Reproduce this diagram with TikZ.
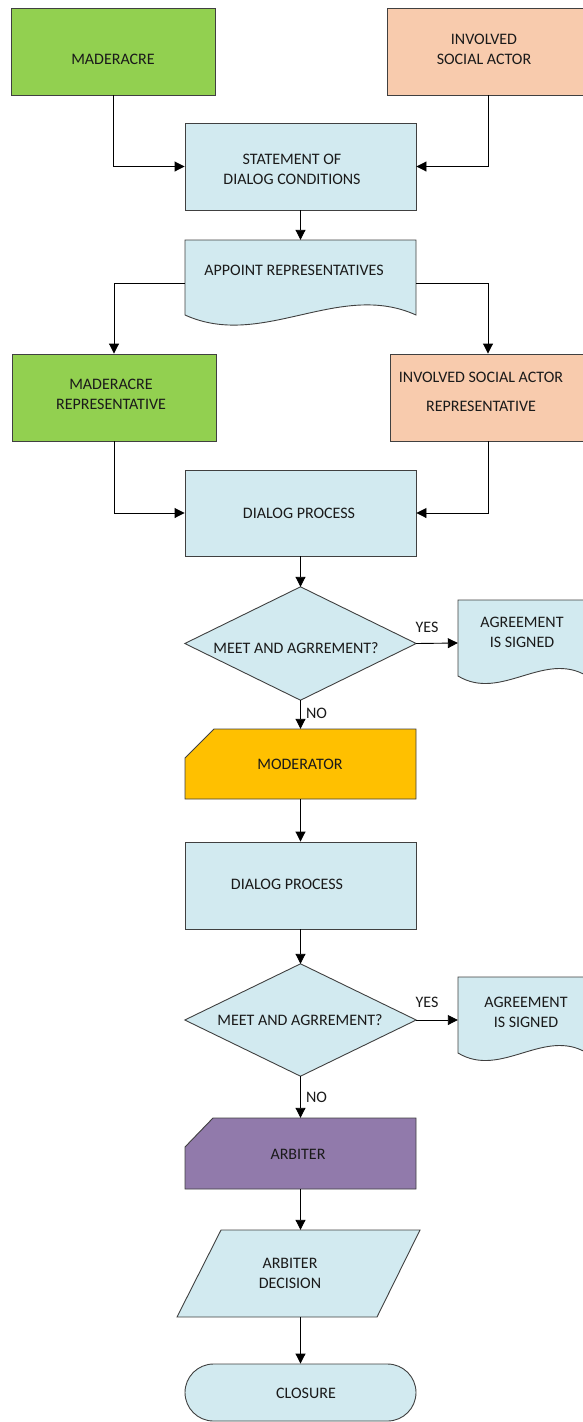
\documentclass[tikz,border=0pt]{standalone}
\usepackage{fontspec}
\setmainfont{Carlito}
\usetikzlibrary{arrows.meta}
\definecolor{boxgreen}{HTML}{92D050}
\definecolor{boxpeach}{HTML}{F8CBAD}
\definecolor{boxblue}{HTML}{D2EAF0}
\definecolor{boxorange}{HTML}{FFC000}
\definecolor{boxpurple}{HTML}{917AAB}
\definecolor{edge}{HTML}{404040}
\definecolor{ink}{HTML}{1A1A1A}

\begin{document}
\begin{tikzpicture}[x=1pt,y=-1pt,
  font=\fontsize{16}{20}\selectfont,
  box/.style={rectangle, draw=edge, line width=0.9pt, inner sep=0pt},
  frame/.style={rectangle, inner sep=0pt},
  outline/.style={draw=edge, line width=0.9pt},
  lbl/.style={text=ink, align=center, inner sep=1pt},
  flow/.style={draw=black, line width=0.9pt, -{Triangle[length=10pt,width=10pt]}}]

\clip (0,0) rectangle (583,1422);

% ---- plain boxes ----
\node[box, fill=boxgreen, minimum width=204pt, minimum height=87pt] (mad) at (113,51.5) {};
\node[box, fill=boxpeach, minimum width=202pt, minimum height=87pt] (soc) at (488,51.5) {};
\node[box, fill=boxblue, minimum width=231pt, minimum height=87pt] (stmt) at (300.5,166.5) {};
\node[box, fill=boxgreen, minimum width=204pt, minimum height=87pt] (mrep) at (114,397.5) {};
\node[box, fill=boxpeach, minimum width=196pt, minimum height=87pt] (srep) at (488,397.5) {};
\node[box, fill=boxblue, minimum width=231pt, minimum height=86pt] (dlg1) at (300.5,513) {};
\node[box, fill=boxblue, minimum width=231pt, minimum height=87pt] (dlg2) at (300.5,885.5) {};
\node[box, fill=boxblue, rounded corners=28.5pt, minimum width=231pt, minimum height=57pt] (clo) at (300.5,1392.5) {};

% ---- frames of the drawn shapes ----
\node[frame, minimum width=231pt, minimum height=86pt] (app) at (300.5,283) {};
\node[frame, minimum width=231pt, minimum height=113pt] (dia1) at (300.5,643.5) {};
\node[frame, minimum width=129pt, minimum height=86pt] (agr1) at (522.5,643) {};
\node[frame, minimum width=231pt, minimum height=70pt] (mod) at (300.5,764) {};
\node[frame, minimum width=231pt, minimum height=112pt] (dia2) at (300.5,1020) {};
\node[frame, minimum width=129pt, minimum height=86pt] (agr2) at (522.5,1020) {};
\node[frame, minimum width=231pt, minimum height=71pt] (arb) at (300.5,1153.5) {};
\node[frame, minimum width=243pt, minimum height=87pt] (dec) at (298.5,1273.5) {};

% document shapes with a wavy lower edge
\path[outline, fill=boxblue] (185,240) -- (416,240) -- (416,315)
  .. controls (339,280) and (262,350) .. (185,315) -- cycle;
\path[outline, fill=boxblue] (458,600) -- (587,600) -- (587,676)
  .. controls (544,650) and (501,702) .. (458,676) -- cycle;
\path[outline, fill=boxblue] (458,977) -- (587,977) -- (587,1053)
  .. controls (544,1027) and (501,1079) .. (458,1053) -- cycle;

% decisions
\path[outline, fill=boxblue] (dia1.north) -- (dia1.east) -- (dia1.south) -- (dia1.west) -- cycle;
\path[outline, fill=boxblue] (dia2.north) -- (dia2.east) -- (dia2.south) -- (dia2.west) -- cycle;

% cards with a cut corner
\path[outline, fill=boxorange] (185,758) -- (214,729) -- (416,729) -- (416,799) -- (185,799) -- cycle;
\path[outline, fill=boxpurple] (185,1147) -- (213,1118) -- (416,1118) -- (416,1189) -- (185,1189) -- cycle;

% data (parallelogram)
\path[outline, fill=boxblue] (221,1230) -- (420,1230) -- (377,1317) -- (177,1317) -- cycle;

% ---- texts ----
\node[lbl] (madT) at (113,59) {MADERACRE};
\node[lbl] (socT) at (484,49) {INVOLVED\\SOCIAL ACTOR};
\node[lbl] (stmtT) at (292,169) {STATEMENT OF\\DIALOG CONDITIONS};
\node[lbl] (appT) at (294,270) {APPOINT REPRESENTATIVES};
\node[lbl] (mrepT) at (111,394) {MADERACRE\\REPRESENTATIVE};
\node[lbl] (srepT) at (481,391.5) {INVOLVED SOCIAL ACTOR\\[9pt]REPRESENTATIVE};
\node[lbl] (dlg1T) at (299,513) {DIALOG PROCESS};
\node[lbl] (dia1T) at (296,648) {MEET AND AGRREMENT?};
\node[lbl] (agr1T) at (522,632) {AGREEMENT\\IS SIGNED};
\node[lbl] (modT) at (300,764) {MODERATOR};
\node[lbl] (dlg2T) at (287,884) {DIALOG PROCESS};
\node[lbl] (dia2T) at (300,1020) {MEET AND AGRREMENT?};
\node[lbl] (agr2T) at (526,1012) {AGREEMENT\\IS SIGNED};
\node[lbl] (arbT) at (298,1154) {ARBITER};
\node[lbl] (decT) at (290,1273) {ARBITER\\DECISION};
\node[lbl] (cloT) at (306,1393) {CLOSURE};

% ---- connectors ----
\draw[flow] (mad.south) |- (stmt.west);
\draw[flow] (soc.south) |- (stmt.east);
\draw[flow] (stmt.south) -- (app.north);
\draw[flow] (app.west) -| (mrep.north);
\draw[flow] (app.east) -| (srep.north);
\draw[flow] (mrep.south) |- (dlg1.west);
\draw[flow] (srep.south) |- (dlg1.east);
\draw[flow] (dlg1.south) -- (dia1.north);
\draw[flow] (dia1.east) -- node[lbl, pos=0.26, yshift=16pt] {YES} (agr1.west);
\draw[flow] (dia1.south) -- node[lbl, pos=0.45, xshift=16pt] {NO} (mod.north);
\draw[flow] (mod.south) -- (dlg2.north);
\draw[flow] (dlg2.south) -- (dia2.north);
\draw[flow] (dia2.east) -- node[lbl, pos=0.26, yshift=18pt] {YES} (agr2.west);
\draw[flow] (dia2.south) -- node[lbl, pos=0.5, xshift=16pt] {NO} (arb.north);
\draw[flow] (arb.south) -- (arb.south |- dec.north);
\draw[flow] (dec.south -| clo.north) -- (clo.north);
\end{tikzpicture}
\end{document}
